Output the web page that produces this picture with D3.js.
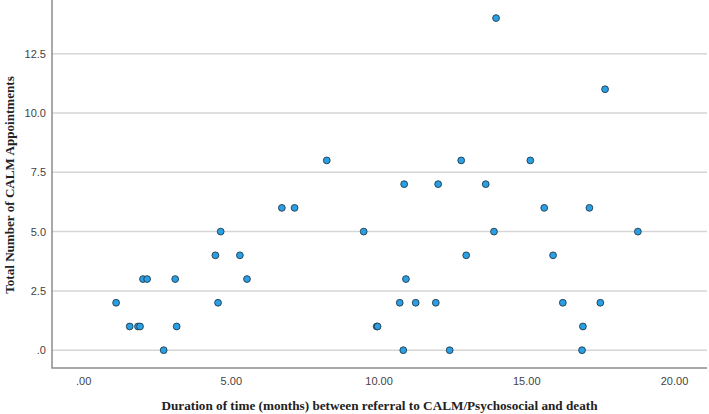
<!DOCTYPE html>
<html>
<head>
<meta charset="utf-8">
<script src="https://cdn.jsdelivr.net/npm/d3@7"></script>
<style>
    body { margin: 0; background: #fff; }
    svg { display: block; }
</style>
</head>
<body>
<svg id="chart" width="709" height="414"></svg>
<script>
// months between referral and death
const months = [1.10, 1.56, 1.84, 1.91, 2.01, 2.15, 2.71, 3.10, 3.15, 4.46, 4.55, 4.64, 5.29, 5.53,
    6.71, 7.14, 8.23, 9.48, 9.92, 9.95, 10.70, 10.82, 10.85, 10.91, 11.24, 11.92, 12.00, 12.39,
    12.78, 12.95, 13.61, 13.89, 13.96, 15.12, 15.59, 15.89, 16.22, 16.87, 16.90, 17.12, 17.49,
    17.65, 18.76];
// total number of CALM appointments
const appointments = [2, 1, 1, 1, 3, 3, 0, 3, 1, 4, 2, 5, 4, 3,
    6, 6, 8, 5, 1, 1, 2, 0, 7, 3, 2, 2, 7, 0,
    8, 4, 7, 5, 14, 8, 6, 4, 2, 0, 1, 6, 2,
    11, 5];

const xTicks = [0, 5, 10, 15, 20];
const yTicks = [0, 2.5, 5, 7.5, 10, 12.5];

const xTitle = "Duration of time (months) between referral to CALM/Psychosocial and death";
const yTitle = "Total Number of CALM Appointments";

const svg = d3.select("#chart");
const plotLeft = 52, plotRight = 707, plotTop = 1, plotBottom = 368;

const x = d3.scaleLinear().domain([-1.07, 21.1]).range([plotLeft, plotRight]);
const y = d3.scaleLinear().domain([-0.75, 14.72]).range([plotBottom, plotTop]);

// strip leading zero like SPSS
const noZero = (s) => s.replace(/^0\./, ".");

// grid lines
svg.append("g")
    .selectAll("line")
    .data(yTicks)
    .enter()
    .append("line")
    .attr("x1", plotLeft)
    .attr("x2", plotRight)
    .attr("y1", (d) => y(d))
    .attr("y2", (d) => y(d))
    .style("stroke", "#d6d6d6")
    .style("stroke-width", 1.5);

// y tick labels
svg.append("g")
    .selectAll("text")
    .data(yTicks)
    .enter()
    .append("text")
    .attr("x", 46)
    .attr("y", (d) => y(d) + 4)
    .attr("text-anchor", "end")
    .style("font-family", "Liberation Sans, Arial, sans-serif")
    .style("font-size", "11px")
    .style("fill", "#444")
    .text((d) => noZero(d3.format(".1f")(d)));

// x tick labels
svg.append("g")
    .selectAll("text")
    .data(xTicks)
    .enter()
    .append("text")
    .attr("x", (d) => x(d))
    .attr("y", 385)
    .attr("text-anchor", "middle")
    .style("font-family", "Liberation Sans, Arial, sans-serif")
    .style("font-size", "11px")
    .style("fill", "#444")
    .text((d) => noZero(d3.format(".2f")(d)));

// axis lines
svg.append("path")
    .attr("d", `M${plotLeft},0V${plotBottom}H${plotRight}`)
    .style("fill", "none")
    .style("stroke", "#8c8c8c")
    .style("stroke-width", 1.5);

// points
svg.append("g")
    .selectAll("circle")
    .data(months.map((m, i) => [m, appointments[i]]))
    .enter()
    .append("circle")
    .attr("cx", (d) => x(d[0]))
    .attr("cy", (d) => y(d[1]))
    .attr("r", 3.4)
    .style("fill", "#2a9fe3")
    .style("stroke", "#203b4c")
    .style("stroke-width", 0.9);

// axis titles
svg.append("text")
    .attr("x", (plotLeft + plotRight) / 2)
    .attr("y", 410)
    .attr("text-anchor", "middle")
    .style("font-family", "Liberation Serif, Times New Roman, serif")
    .style("font-weight", "bold")
    .style("font-size", "13.2px")
    .style("fill", "#222")
    .text(xTitle);

svg.append("text")
    .attr("text-anchor", "middle")
    .attr("transform", "translate(14,185)rotate(-90)")
    .style("font-family", "Liberation Serif, Times New Roman, serif")
    .style("font-weight", "bold")
    .style("font-size", "13.1px")
    .style("fill", "#222")
    .text(yTitle);
</script>
</body>
</html>
